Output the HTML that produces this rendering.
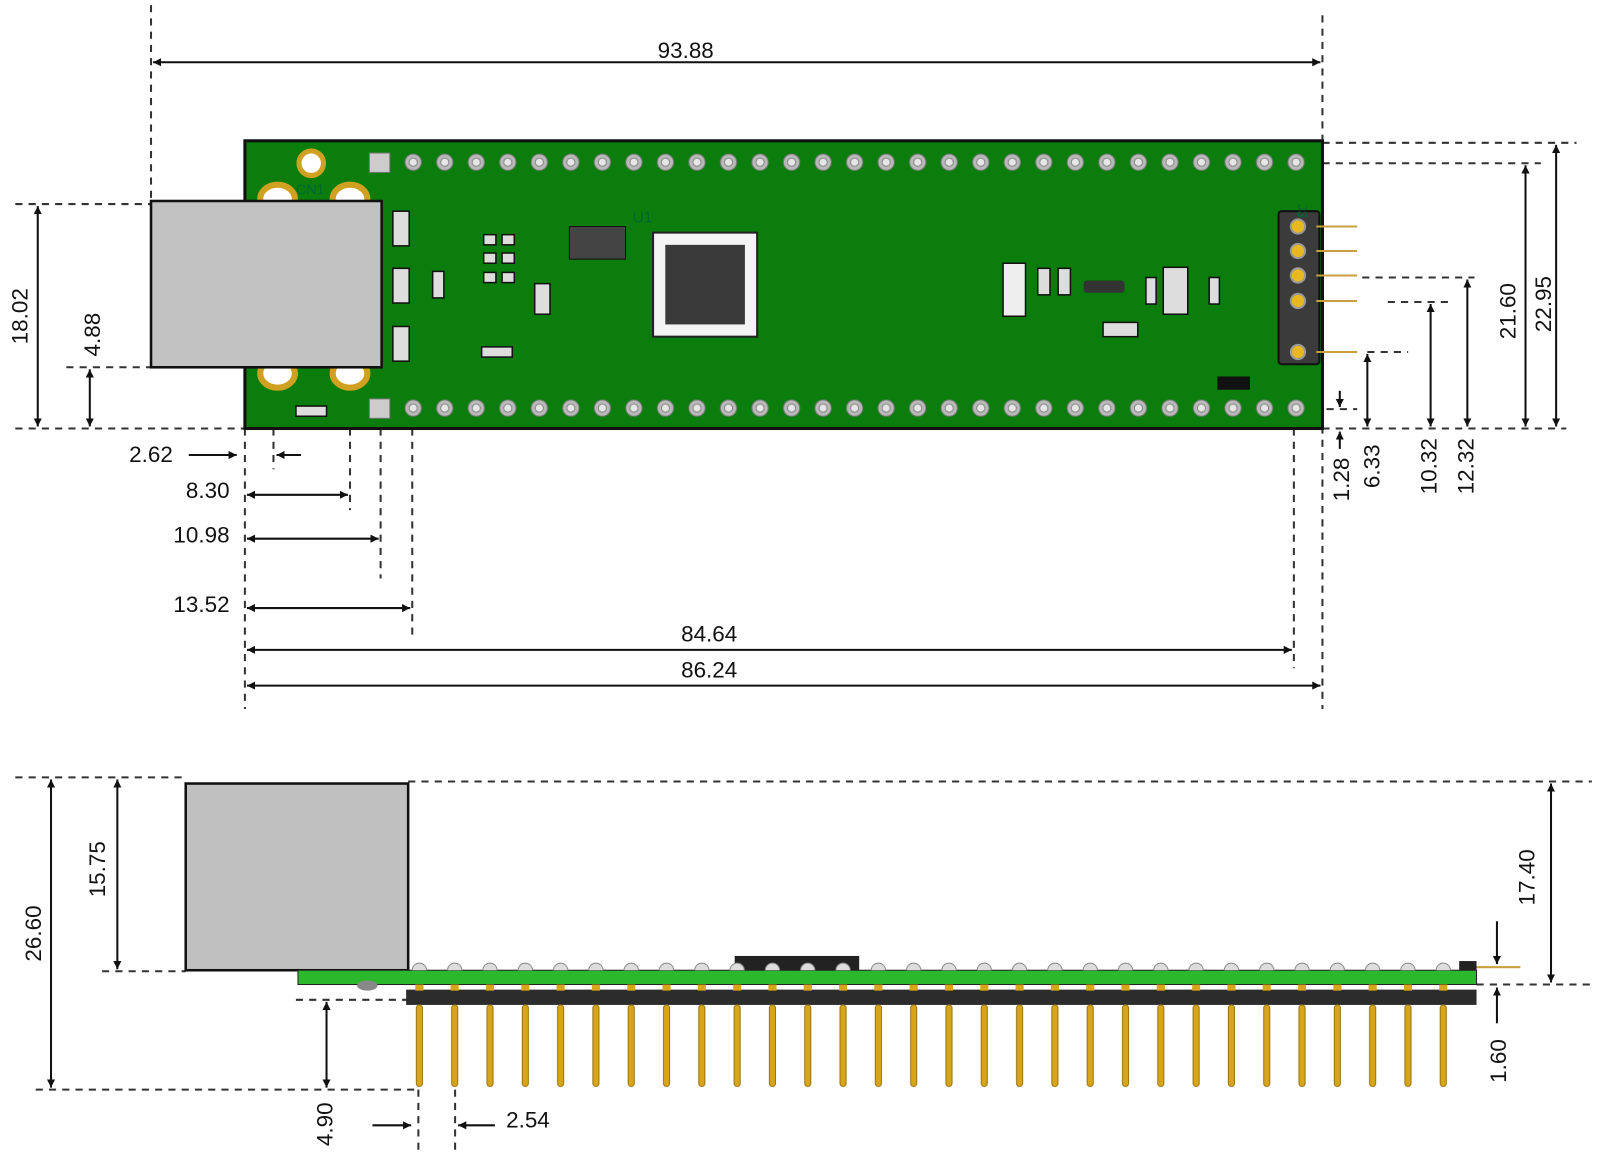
<!DOCTYPE html>
<html><head><meta charset="utf-8"><style>
html,body{margin:0;padding:0;background:#fff;}
svg{display:block;}
text{font-family:"Liberation Sans",sans-serif;font-size:22px;fill:#111;}
</style></head><body>
<svg width="1600" height="1160" viewBox="0 0 1568 1137" preserveAspectRatio="none" xmlns="http://www.w3.org/2000/svg">
<defs>
<marker id="a" viewBox="0 0 10 10" refX="10" refY="5" markerWidth="8" markerHeight="8" orient="auto-start-reverse" markerUnits="userSpaceOnUse"><path d="M0,0 L10,5 L0,10 z" fill="#111"/></marker>
<pattern id="holes" patternUnits="userSpaceOnUse" x="389.5" y="144" width="30.9" height="30">
<circle cx="15.45" cy="15" r="8" fill="#b9b9b9" stroke="#777" stroke-width="1"/>
<circle cx="15.45" cy="15" r="4" fill="#e6e6e6" stroke="#888" stroke-width="1"/>
</pattern>
<pattern id="holesB" patternUnits="userSpaceOnUse" x="389.5" y="385" width="30.9" height="30">
<circle cx="15.45" cy="15" r="8" fill="#b9b9b9" stroke="#777" stroke-width="1"/>
<circle cx="15.45" cy="15" r="4" fill="#e6e6e6" stroke="#888" stroke-width="1"/>
</pattern>
<pattern id="pins" patternUnits="userSpaceOnUse" x="394" y="940" width="34.6" height="130">
<path d="M10,11 a7,7 0 0 1 14,0" fill="#ddd" stroke="#888"/>
<rect x="13" y="25" width="8" height="6" fill="#d6a51a"/>
<rect x="14" y="45" width="6" height="80" rx="3" fill="#d6a51a" stroke="#9a7410" stroke-width="1"/>
</pattern>
</defs>

<g stroke="#333" stroke-width="2" stroke-dasharray="7,6" fill="none">
<line x1="148" y1="5" x2="148" y2="200"/>
<line x1="1296" y1="15" x2="1296" y2="695"/>
<line x1="1296" y1="140" x2="1545" y2="140"/>
<line x1="1296" y1="160" x2="1510" y2="160"/>
<line x1="1296" y1="420" x2="1535" y2="420"/>
<line x1="1335" y1="272" x2="1445" y2="272"/>
<line x1="1360" y1="296" x2="1425" y2="296"/>
<line x1="1340" y1="345" x2="1380" y2="345"/>
<line x1="1300" y1="401" x2="1330" y2="401"/>
<line x1="15" y1="200" x2="148" y2="200"/>
<line x1="15" y1="420" x2="240" y2="420"/>
<line x1="65" y1="360" x2="148" y2="360"/>
<line x1="240" y1="420" x2="240" y2="695"/>
<line x1="268" y1="420" x2="268" y2="460"/>
<line x1="343" y1="420" x2="343" y2="500"/>
<line x1="373" y1="420" x2="373" y2="567"/>
<line x1="404" y1="420" x2="404" y2="628"/>
<line x1="1268" y1="420" x2="1268" y2="655"/>
<line x1="15" y1="762" x2="180" y2="762"/>
<line x1="400" y1="766" x2="1560" y2="766"/>
<line x1="100" y1="952" x2="182" y2="952"/>
<line x1="290" y1="980" x2="400" y2="980"/>
<line x1="35" y1="1068" x2="410" y2="1068"/>
<line x1="410" y1="1068" x2="410" y2="1130"/>
<line x1="446" y1="1068" x2="446" y2="1130"/>
<line x1="1447" y1="965" x2="1560" y2="965"/>
</g>

<rect x="240" y="138" width="1056" height="282" fill="#0a7d0c" stroke="#111" stroke-width="3"/>
<rect x="389.5" y="144" width="896" height="30" fill="url(#holes)"/>
<rect x="389.5" y="385" width="896" height="30" fill="url(#holesB)"/>
<rect x="362" y="150" width="20" height="19" fill="#ccc" stroke="#777"/>
<rect x="362" y="391" width="20" height="19" fill="#ccc" stroke="#777"/>
<circle cx="305" cy="160" r="12" fill="#fff" stroke="#d0a020" stroke-width="5"/>
<ellipse cx="272" cy="195" rx="17" ry="14" fill="#fff" stroke="#d0a020" stroke-width="6"/>
<ellipse cx="343" cy="195" rx="17" ry="14" fill="#fff" stroke="#d0a020" stroke-width="6"/>
<ellipse cx="272" cy="366" rx="17" ry="14" fill="#fff" stroke="#d0a020" stroke-width="6"/>
<ellipse cx="343" cy="366" rx="17" ry="14" fill="#fff" stroke="#d0a020" stroke-width="6"/>
<text x="290" y="190" style="font-size:14px;fill:#063">CN1</text>
<text x="620" y="218" style="font-size:15px;fill:#063">U1</text>
<rect x="148" y="197" width="226" height="163" fill="#c2c2c2" stroke="#111" stroke-width="2.5"/>
<g fill="#ddd" stroke="#111" stroke-width="1.5">
<rect x="385" y="207" width="16" height="34"/><rect x="385" y="263" width="16" height="34"/><rect x="385" y="320" width="16" height="34"/>
<rect x="424" y="266" width="11" height="26"/>
<rect x="474" y="230" width="12" height="10"/><rect x="492" y="230" width="12" height="10"/>
<rect x="474" y="248" width="12" height="10"/><rect x="492" y="248" width="12" height="10"/>
<rect x="474" y="267" width="12" height="10"/><rect x="492" y="267" width="12" height="10"/>
<rect x="524" y="278" width="15" height="30"/>
<rect x="472" y="340" width="30" height="10"/>
<rect x="290" y="398" width="30" height="10"/>
<rect x="1017" y="263" width="12" height="26"/><rect x="1037" y="263" width="12" height="26"/>
<rect x="1123" y="272" width="10" height="26"/>
<rect x="1185" y="272" width="10" height="26"/>
<rect x="1081" y="316" width="34" height="14"/>
<rect x="983" y="258" width="22" height="52" fill="#eee"/>
<rect x="1140" y="262" width="24" height="46"/>
</g>
<rect x="1062" y="275" width="40" height="12" rx="3" fill="#333"/>
<rect x="558" y="222" width="55" height="32" fill="#444" stroke="#111"/>
<rect x="1193" y="369" width="32" height="13" fill="#111"/>
<rect x="640" y="228" width="102" height="102" fill="#f4f4f4" stroke="#222" stroke-width="2"/>
<rect x="652" y="240" width="78" height="78" fill="#3a3a3a"/>
<rect x="1253" y="207" width="40" height="150" rx="3" fill="#3b3b3b" stroke="#111" stroke-width="2"/>
<text x="1272" y="200" style="font-size:13px;fill:#063" transform="rotate(90 1272 200)">J3</text>
<g stroke="#c9a040" stroke-width="2"><line x1="1290" y1="222" x2="1330" y2="222"/><line x1="1290" y1="246" x2="1330" y2="246"/><line x1="1290" y1="270" x2="1330" y2="270"/><line x1="1290" y1="295" x2="1330" y2="295"/><line x1="1290" y1="345" x2="1330" y2="345"/></g>
<g fill="#e8b820" stroke="#999" stroke-width="2"><circle cx="1272" cy="222" r="7"/><circle cx="1272" cy="246" r="7"/><circle cx="1272" cy="270" r="7"/><circle cx="1272" cy="295" r="7"/><circle cx="1272" cy="345" r="7"/></g>

<g stroke="#111" stroke-width="2" fill="none" marker-end="url(#a)" marker-start="url(#a)">
<line x1="150" y1="61" x2="1294" y2="61"/>
<line x1="1525" y1="142" x2="1525" y2="418"/>
<line x1="1495" y1="162" x2="1495" y2="418"/>
<line x1="1438" y1="274" x2="1438" y2="418"/>
<line x1="1402" y1="298" x2="1402" y2="418"/>
<line x1="1340" y1="347" x2="1340" y2="418"/>
<line x1="37" y1="202" x2="37" y2="418"/>
<line x1="88" y1="362" x2="88" y2="418"/>
<line x1="242" y1="485" x2="341" y2="485"/>
<line x1="242" y1="528" x2="371" y2="528"/>
<line x1="242" y1="596" x2="402" y2="596"/>
<line x1="242" y1="637" x2="1266" y2="637"/>
<line x1="242" y1="672" x2="1294" y2="672"/>
<line x1="50" y1="764" x2="50" y2="1066"/>
<line x1="115" y1="764" x2="115" y2="950"/>
<line x1="320" y1="982" x2="320" y2="1066"/>
<line x1="1520" y1="768" x2="1520" y2="963"/>
</g>
<g stroke="#111" stroke-width="2" fill="none" marker-end="url(#a)">
<line x1="185" y1="446" x2="232" y2="446"/>
<line x1="295" y1="446" x2="271" y2="446"/>
<line x1="1313" y1="383" x2="1313" y2="399"/>
<line x1="1313" y1="440" x2="1313" y2="423"/>
<line x1="365" y1="1103" x2="403" y2="1103"/>
<line x1="485" y1="1103" x2="449" y2="1103"/>
<line x1="1467" y1="903" x2="1467" y2="945"/>
<line x1="1467" y1="1003" x2="1467" y2="968"/>
</g>

<rect x="182" y="768" width="218" height="183" fill="#c0c0c0" stroke="#111" stroke-width="2.5"/>
<rect x="720" y="937" width="122" height="14" fill="#222"/>
<line x1="1447" y1="948" x2="1490" y2="948" stroke="#c9a040" stroke-width="2"/>
<rect x="1430" y="942" width="17" height="9" fill="#222"/>
<rect x="292" y="951" width="1155" height="14" fill="#2cb82c" stroke="#222" stroke-width="1"/>
<ellipse cx="360" cy="966" rx="10" ry="5" fill="#888"/>
<rect x="398" y="970" width="1049" height="15" fill="#2c2c2c"/>
<rect x="398" y="940" width="1040" height="130" fill="url(#pins)"/>

<text x="672" y="57" text-anchor="middle">93.88</text>
<text x="148" y="453" text-anchor="middle">2.62</text>
<text x="225" y="488" text-anchor="end">8.30</text>
<text x="225" y="532" text-anchor="end">10.98</text>
<text x="225" y="600" text-anchor="end">13.52</text>
<text x="695" y="629" text-anchor="middle">84.64</text>
<text x="695" y="664" text-anchor="middle">86.24</text>
<text transform="translate(27 310) rotate(-90)" text-anchor="middle">18.02</text>
<text transform="translate(98 328) rotate(-90)" text-anchor="middle">4.88</text>
<text transform="translate(1485 305) rotate(-90)" text-anchor="middle">21.60</text>
<text transform="translate(1520 298) rotate(-90)" text-anchor="middle">22.95</text>
<text transform="translate(1322 470) rotate(-90)" text-anchor="middle">1.28</text>
<text transform="translate(1352 457) rotate(-90)" text-anchor="middle">6.33</text>
<text transform="translate(1408 457) rotate(-90)" text-anchor="middle">10.32</text>
<text transform="translate(1444 457) rotate(-90)" text-anchor="middle">12.32</text>
<text transform="translate(40 915) rotate(-90)" text-anchor="middle">26.60</text>
<text transform="translate(103 852) rotate(-90)" text-anchor="middle">15.75</text>
<text transform="translate(326 1102) rotate(-90)" text-anchor="middle">4.90</text>
<text x="496" y="1105">2.54</text>
<text transform="translate(1504 860) rotate(-90)" text-anchor="middle">17.40</text>
<text transform="translate(1476 1040) rotate(-90)" text-anchor="middle">1.60</text>
</svg>
</body></html>
